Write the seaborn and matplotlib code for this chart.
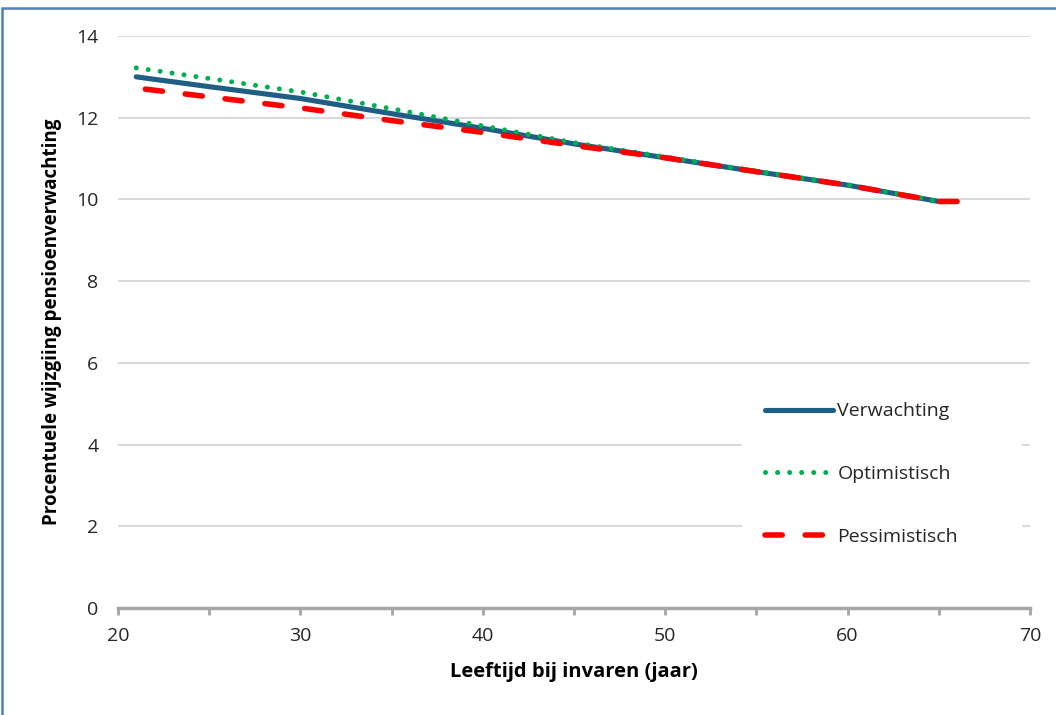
import numpy as np
import pandas as pd
import matplotlib
matplotlib.use("Agg")
import matplotlib.pyplot as plt
import seaborn as sns
from matplotlib.patches import Rectangle

# Data
ages_verw = [21, 25, 30, 35, 40, 45, 50, 55, 60, 65]
verwachting = [13.0, 12.76, 12.47, 12.10, 11.74, 11.36, 11.02, 10.68, 10.35, 9.95]

ages_opt = [21, 25, 30, 35, 40, 45, 50, 55, 60, 65]
optimistisch = [13.22, 12.96, 12.63, 12.22, 11.80, 11.39, 11.04, 10.69, 10.36, 9.95]

ages_pes = [21.5, 25, 30, 35, 40, 45, 50, 55, 60, 65, 66]
pessimistisch = [12.70, 12.51, 12.24, 11.93, 11.64, 11.32, 11.02, 10.68, 10.35, 9.95, 9.95]

labels = ["Verwachting", "Optimistisch", "Pessimistisch"]
colors = ["#1F5F86", "#00B050", "#FF0000"]

x_ticks = [20, 30, 40, 50, 60, 70]
y_ticks = [0, 2, 4, 6, 8, 10, 12, 14]

sns.set_theme(style="white")
plt.rcParams['font.family'] = ['Open Sans', 'DejaVu Sans']

DPI = 100
W, H = 1056, 715
fig = plt.figure(figsize=(W / DPI, H / DPI), dpi=DPI)
AX_L, AX_R, AX_T, AX_B = 118, 1030, 36, 608
ax = fig.add_axes([AX_L / W, 1 - AX_B / H, (AX_R - AX_L) / W, (AX_B - AX_T) / H])

def px_to_axes(x, y):
    return (x - AX_L) / (AX_R - AX_L), (AX_B - y) / (AX_B - AX_T)

df_v = pd.DataFrame({"x": ages_verw, "y": verwachting})
df_o = pd.DataFrame({"x": ages_opt, "y": optimistisch})
df_p = pd.DataFrame({"x": ages_pes, "y": pessimistisch})

sns.lineplot(data=df_v, x="x", y="y", ax=ax, color=colors[0], linewidth=3.7,
             label=labels[0], zorder=3)
sns.lineplot(data=df_o, x="x", y="y", ax=ax, color=colors[1], linewidth=3.6,
             label=labels[1], zorder=4)
sns.lineplot(data=df_p, x="x", y="y", ax=ax, color=colors[2], linewidth=4.0,
             label=labels[2], zorder=5)

ax.set_xlim(20, 70)
ax.set_ylim(0, 14)

lines = ax.get_lines()
lines[0].set_solid_capstyle("round")
lines[1].set_linestyle((0, (0.01, 2.4)))
lines[1].set_dash_capstyle("round")

# adjust dash gap so the red line ends on a full dash (as in the reference)
red = lines[2]
lw = red.get_linewidth()
pts = ax.transData.transform(np.column_stack([ages_pes, pessimistisch]))
L_pt = np.sum(np.hypot(*np.diff(pts, axis=0).T)) * 72 / DPI
on = 3.1 * lw
p0 = (3.1 + 4.3) * lw
n = max(1, round((L_pt - on) / p0))
period = (L_pt - on) / n
red.set_linestyle((0, (on / lw, (period - on) / lw)))
red.set_dash_capstyle("round")

ax.set_xticks(np.arange(20, 71, 5))
ax.set_xticklabels([str(t) if t in x_ticks else "" for t in range(20, 71, 5)])
ax.set_yticks(y_ticks)
ax.set_yticklabels([str(t) for t in y_ticks])

ax.grid(axis="y", color="#D9D9D9", linewidth=1.5)
ax.grid(axis="x", visible=False)
for s in ["top", "right", "left"]:
    ax.spines[s].set_visible(False)
ax.spines["bottom"].set_color("#A6A6A6")
ax.spines["bottom"].set_linewidth(2.5)
ax.spines["bottom"].set_zorder(2)

ax.tick_params(axis="x", which="major", direction="out", length=5, width=2,
               color="#A6A6A6", labelsize=14, labelcolor="#262626", pad=9, bottom=True)
ax.tick_params(axis="y", length=0, labelsize=14, labelcolor="#262626", pad=14)

ax.set_xlabel("Leeftijd bij invaren (jaar)", fontsize=14.5, fontweight="bold",
              color="#000000", labelpad=12)
ax.set_ylabel("Procentuele wijzgiing pensioenverwachting", fontsize=13.5,
              fontweight="bold", color="#000000", labelpad=10)

# white legend background box (as in the reference)
bx0, by0 = px_to_axes(742, 565)
bx1, by1 = px_to_axes(1022, 385)
ax.add_patch(Rectangle((bx0, by0), bx1 - bx0, by1 - by0, transform=ax.transAxes,
                       facecolor="white", edgecolor="none", zorder=2.5))

leg = ax.legend(loc="upper left", bbox_to_anchor=px_to_axes(747, 385),
                frameon=False, fontsize=14, handlelength=3.5, handletextpad=0.25,
                labelspacing=2.3, borderpad=0.9, borderaxespad=0)
leg.set_zorder(6)
for t in leg.get_texts():
    t.set_color("#262626")

# blue frame
fig.patches.append(Rectangle((2 / W, -0.05), 1.1, 1 - 8 / H + 0.05,
                             transform=fig.transFigure, fill=False,
                             edgecolor="#4F7FBF", linewidth=1.8, zorder=10))

fig.savefig("out.png", dpi=DPI)
